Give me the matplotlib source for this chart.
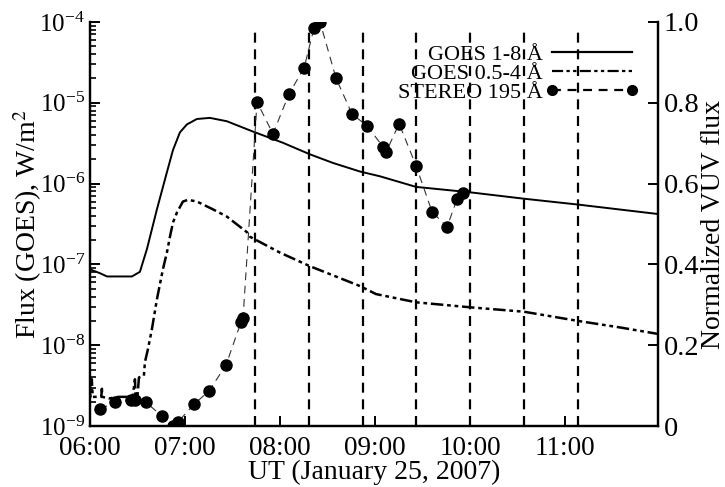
import matplotlib
matplotlib.use('Agg')
import matplotlib.pyplot as plt
from matplotlib.lines import Line2D
import numpy as np

plt.rcParams['font.family'] = ['Liberation Serif', 'DejaVu Serif']
plt.rcParams['mathtext.fontset'] = 'stix'

# times in decimal hours UT
goes18_t = [6.0, 6.105, 6.18, 6.442, 6.526, 6.6, 6.705, 6.81, 6.874, 6.947, 7.021,
            7.126, 7.263, 7.442, 7.716, 8.03, 8.316, 8.558, 8.842, 9.053, 9.432,
            9.684, 10.0, 10.568, 11.137, 11.98]
goes18_f = [8.7e-8, 7.8e-8, 7.1e-8, 7.1e-8, 8.1e-8, 1.55e-7, 4.8e-7, 1.38e-6, 2.6e-6,
            4.3e-6, 5.4e-6, 6.3e-6, 6.5e-6, 5.9e-6, 4.4e-6, 3.2e-6, 2.3e-6, 1.8e-6,
            1.41e-6, 1.23e-6, 9.1e-7, 8.5e-7, 7.8e-7, 6.5e-7, 5.5e-7, 4.2e-7]

goes054_t = [6.0, 6.005, 6.01, 6.02, 6.03, 6.05, 6.12, 6.126, 6.13, 6.2, 6.3, 6.45,
             6.474, 6.48, 6.5, 6.516, 6.568, 6.579, 6.61, 6.653, 6.705, 6.768, 6.81,
             6.842, 6.874, 6.916, 6.979, 7.032, 7.126, 7.295, 7.442, 7.653, 7.684,
             8.0, 8.316, 8.842, 9.01, 9.432, 10.0, 10.568, 11.137, 11.58, 11.98]
goes054_f = [4.0e-9, 2.3e-9, 2.4e-9, 3.8e-9, 2.3e-9, 2.3e-9, 2.3e-9, 2.9e-9, 2.3e-9,
             2.2e-9, 2.3e-9, 2.3e-9, 3.8e-9, 2.3e-9, 2.3e-9, 4.0e-9, 4.2e-9, 6.2e-9,
             8.9e-9, 1.6e-8, 3.7e-8, 8.7e-8, 1.4e-7, 2.2e-7, 3.3e-7, 4.4e-7, 6.0e-7,
             6.3e-7, 6.0e-7, 4.8e-7, 3.9e-7, 2.5e-7, 2.2e-7, 1.4e-7, 9.5e-8, 5.4e-8,
             4.3e-8, 3.4e-8, 2.95e-8, 2.6e-8, 2.0e-8, 1.66e-8, 1.38e-8]

stereo_t = [6.105, 6.263, 6.432, 6.474, 6.589, 6.758, 6.874, 6.926, 7.095, 7.253,
            7.432, 7.589, 7.611, 7.758, 7.926, 8.095, 8.253, 8.358, 8.421, 8.589,
            8.758, 8.916, 9.084, 9.116, 9.253, 9.432, 9.6, 9.758, 9.863, 9.926]
stereo_v = [0.042, 0.059, 0.064, 0.064, 0.059, 0.025, 0.0, 0.010, 0.054, 0.087,
            0.151, 0.257, 0.267, 0.802, 0.723, 0.822, 0.886, 0.985, 1.0, 0.861,
            0.772, 0.743, 0.691, 0.678, 0.748, 0.644, 0.530, 0.493, 0.562, 0.577]

# vertical marker lines
vlines_t = [7.737, 8.305, 8.874, 9.432, 10.0, 10.568, 11.137]

hour_ticks = [6, 7, 8, 9, 10, 11]
hour_labels = ['06:00', '07:00', '08:00', '09:00', '10:00', '11:00']
right_ticks = [0, 0.2, 0.4, 0.6, 0.8, 1.0]
right_labels = ['0', '0.2', '0.4', '0.6', '0.8', '1.0']

fig = plt.figure(figsize=(7.25, 4.87), dpi=100)
ax = fig.add_axes([0.124, 0.125, 0.784, 0.830])
ax2 = ax.twinx()

dashdotdot = (0, (5, 1.5, 1.5, 1.5, 1.5, 1.5))

ax.plot(goes18_t, goes18_f, color='black', lw=1.4)
ax.plot(goes054_t, goes054_f, color='black', lw=1.8, linestyle=dashdotdot)
ax.set_yscale('log')
ax.set_ylim(1e-9, 1e-4)
ax.set_xlim(6, 11.98)

for t in vlines_t:
    ax.axvline(t, ymin=0, ymax=0.978, color='black', lw=1.6, linestyle=(0, (4.5, 3)))

ax2.plot(stereo_t, stereo_v, color='#333333', lw=0.8, linestyle=(0, (7, 5)),
         marker='o', markersize=8, markerfacecolor='black', markeredgecolor='black')
ax2.set_ylim(0, 1)
ax2.set_yticks(right_ticks)
ax2.set_yticklabels(right_labels)

ax.set_xticks(hour_ticks)
ax.set_xticklabels(hour_labels)

for a in (ax, ax2):
    a.spines['top'].set_visible(False)
    for s in ('left', 'right', 'bottom'):
        a.spines[s].set_linewidth(1.6)
    a.tick_params(axis='both', which='major', direction='in', length=7, width=1.4,
                  labelsize=18)
    a.tick_params(axis='both', which='minor', direction='in', length=4, width=1.2)
ax.tick_params(axis='x', which='major', labelsize=19.5, pad=7)
ax2.tick_params(axis='y', which='major', labelsize=20.5, pad=4)

ax.set_xlabel('UT (January 25, 2007)', fontsize=20, labelpad=-1)
ax.set_ylabel('Flux (GOES), W/m$^2$', fontsize=20, labelpad=-3)
ax2.set_ylabel('Normalized VUV flux', fontsize=20, labelpad=1)

handles = [
    Line2D([], [], color='black', lw=1.6),
    Line2D([], [], color='black', lw=1.6, linestyle=dashdotdot),
    Line2D([], [], color='black', lw=1.6, linestyle=(0, (4, 3)), marker='o',
           markersize=7),
]
labels = ['GOES 1-8 Å', 'GOES 0.5-4 Å', 'STEREO 195 Å']
ax2.legend(handles, labels, loc='upper right', bbox_to_anchor=(0.965, 0.945),
           frameon=False, markerfirst=False, numpoints=2, fontsize=16,
           handlelength=4.2, handletextpad=0.1, labelspacing=-0.06,
           borderpad=0, borderaxespad=0)

fig.savefig('out.png', dpi=100)
